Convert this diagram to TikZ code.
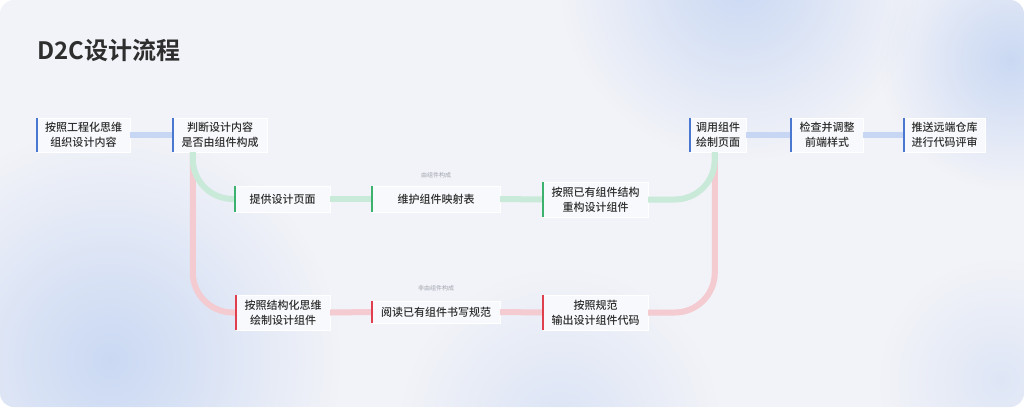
\documentclass[tikz,border=0pt]{standalone}
\usepackage{fontspec}
\setmainfont{Noto Sans CJK SC}
\newfontfamily\cjkbold{Noto Sans CJK SC Bold}
\newfontfamily\cjkmed{Noto Sans CJK SC Medium}
\usetikzlibrary{calc,fadings}
\definecolor{bgcol}{HTML}{F2F3F8}
\definecolor{blobcol}{HTML}{C6D6F3}
\definecolor{boxcol}{HTML}{F8F9FC}
\definecolor{txtcol}{HTML}{2E2E2E}
\definecolor{barblue}{HTML}{4A78D0}
\definecolor{bargreen}{HTML}{3DB26E}
\definecolor{barred}{HTML}{E0404E}
\definecolor{lineblue}{HTML}{C6D6F3}
\definecolor{linegreen}{HTML}{C9E9D9}
\definecolor{linered}{HTML}{F3CBD0}
\definecolor{lblcol}{HTML}{A0A4AE}
\tikzfading[name=softfade, inner color=transparent!10, outer color=transparent!100]
\tikzset{
  box/.style={fill=boxcol, inner sep=0pt, align=center, text=txtcol,
    font=\cjkmed\fontsize{11}{15}\selectfont, draw=white, line width=0.4pt},
  bline/.style={line width=6pt, lineblue},
  gline/.style={line width=6pt, linegreen},
  rline/.style={line width=6pt, linered},
  bbar/.style={line width=2.2pt, barblue},
  gbar/.style={line width=2.2pt, bargreen},
  rbar/.style={line width=2.2pt, barred},
  lbl/.style={font=\fontsize{6}{7}\selectfont, text=lblcol}
}
\begin{document}
\begin{tikzpicture}[x=1pt,y=-1pt]
\useasboundingbox (0,0) rectangle (1024,407);
\fill[white] (0,0) rectangle (1024,407);
\begin{scope}
\clip[rounded corners=14pt] (0,0) rectangle (1024,407);
\fill[bgcol] (0,0) rectangle (1024,407);
\fill[blobcol, path fading=softfade] (110,360) circle (230);
\fill[blobcol, path fading=softfade] (740,-20) circle (180);
\fill[blobcol, path fading=softfade] (1010,60) circle (130);
\fill[blobcol, path fading=softfade, fill opacity=0.6] (560,430) circle (160);
\fill[blobcol, path fading=softfade, fill opacity=0.5] (1000,380) circle (120);
\end{scope}

\node[anchor=west, text=txtcol, font=\cjkbold\fontsize{24}{28}\selectfont, inner sep=0pt] (title) at (37,50) {D2C设计流程};

% row 1
\node[box, minimum width=93pt, minimum height=34pt] (n1) at (83.5,135) {按照工程化思维\\组织设计内容};
\node[box, minimum width=94pt, minimum height=34pt] (n2) at (220,135) {判断设计内容\\是否由组件构成};
\node[box, minimum width=56pt, minimum height=34pt] (n3) at (718,135) {调用组件\\绘制页面};
\node[box, minimum width=72pt, minimum height=34pt] (n4) at (827,135) {检查并调整\\前端样式};
\node[box, minimum width=81pt, minimum height=34pt] (n5) at (944.5,135) {推送远端仓库\\进行代码评审};

% row 2
\node[box, minimum width=95pt, minimum height=26pt] (g1) at (282.5,199) {提供设计页面};
\node[box, minimum width=128pt, minimum height=26pt] (g2) at (436,199) {维护组件映射表};
\node[box, minimum width=105pt, minimum height=35pt] (g3) at (595.5,199.5) {按照已有组件结构\\重构设计组件};

% row 3
\node[box, minimum width=94pt, minimum height=35pt] (r1) at (283,312.5) {按照结构化思维\\绘制设计组件};
\node[box, minimum width=128pt, minimum height=22pt] (r2) at (436,312) {阅读已有组件书写规范};
\node[box, minimum width=105pt, minimum height=35pt] (r3) at (595.5,312.5) {按照规范\\输出设计组件代码};

\node[lbl] (lg) at (436,175) {由组件构成};
\node[lbl] (lr) at (436,288) {非由组件构成};

\coordinate (n2d) at ($(n2.south west)+(20,0)$);
\coordinate (n3d) at ($(n3.south west)+(25,0)$);

% connectors
\draw[rline, rounded corners=40pt] (n2d) |- (r1.west);
\draw[rline, rounded corners=40pt] (r3.east) -| (n3d);
\draw[gline, rounded corners=40pt] (n2d) |- (g1.west);
\draw[gline, rounded corners=40pt] (g3.east) -| (n3d);
\draw[bline] (n1.east) -- (n2.west);
\draw[bline] (n3.east) -- (n4.west);
\draw[bline] (n4.east) -- (n5.west);
\draw[gline] (g1.east) -- (g2.west);
\draw[gline] (g2.east) -- (g3.west);
\draw[rline] (r1.east) -- (r2.west);
\draw[rline] (r2.east) -- (r3.west);

% bars
\foreach \n in {n1,n2,n3,n4,n5} {\draw[bbar] (\n.north west) -- (\n.south west);}
\foreach \n in {g1,g2,g3} {\draw[gbar] (\n.north west) -- (\n.south west);}
\foreach \n in {r1,r2,r3} {\draw[rbar] (\n.north west) -- (\n.south west);}
\end{tikzpicture}
\end{document}
